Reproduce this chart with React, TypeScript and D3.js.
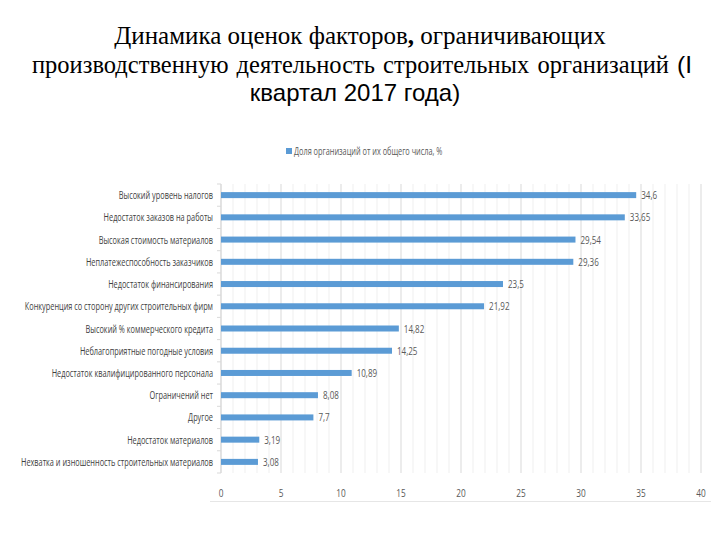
import React from "react";
import * as d3 from "d3";

const categories = [
  "Высокий уровень налогов",
  "Недостаток заказов на работы",
  "Высокая стоимость материалов",
  "Неплатежеспособность заказчиков",
  "Недостаток финансирования",
  "Конкуренция со сторону других строительных фирм",
  "Высокий % коммерческого кредита",
  "Неблагоприятные погодные условия",
  "Недостаток квалифицированного персонала",
  "Ограничений нет",
  "Другое",
  "Недостаток материалов",
  "Нехватка и изношенность строительных материалов",
];
const values = [34.6, 33.65, 29.54, 29.36, 23.5, 21.92, 14.82, 14.25, 10.89, 8.08, 7.7, 3.19, 3.08];
const valueLabels = ["34,6", "33,65", "29,54", "29,36", "23,5", "21,92", "14,82", "14,25", "10,89", "8,08", "7,7", "3,19", "3,08"];
const xTicks = [0, 5, 10, 15, 20, 25, 30, 35, 40];
const seriesName = "Доля организаций от их общего числа, %";
const titleLines = [
  "Динамика оценок факторов, ограничивающих",
  "производственную деятельность строительных организаций (I",
  "квартал 2017 года)",
];

const W = 720;
const H = 540;
const sans = "'Open Sans', 'Liberation Sans', sans-serif";
const serif = "'Liberation Serif', 'DejaVu Serif', serif";

function NText(props: { x: number; y: number; sx: number; anchor?: string; size: number; fill: string; children: React.ReactNode }) {
  return (
    <text
      transform={`translate(${props.x},${props.y}) scale(${props.sx},1)`}
      textAnchor={props.anchor || "start"}
      fontFamily={sans}
      fontSize={props.size}
      fill={props.fill}
    >
      {props.children}
    </text>
  );
}

export default function App() {
  const x = d3.scaleLinear().domain([0, 40]).range([221, 701]);
  const y = d3.scaleBand<string>().domain(categories).range([184, 473]).paddingInner(0.73).paddingOuter(0.365);
  const step = y.step();
  const minor = d3.range(0, 41, 1);
  const bounds = d3.range(0, categories.length + 1).map((i) => 184 + i * step);

  return (
    <svg width={W} height={H} style={{ position: "absolute", left: 0, top: 0, background: "#fff" }}>
      <rect width={W} height={H} fill="#fff" />
      {/* Title */}
      <text x={360} y={44} textAnchor="middle" fontFamily={serif} fontSize={25} fill="#000">
        Динамика оценок факторов<tspan fontWeight="bold">,</tspan> ограничивающих
      </text>
      <text x={32} y={73} fontFamily={serif} fontSize={24.5} fill="#000" wordSpacing={2}>
        производственную деятельность строительных организаций <tspan fontFamily="'Liberation Sans', Arial, sans-serif">(I</tspan>
      </text>
      <text x={355} y={101} textAnchor="middle" fontFamily="'Liberation Sans', Arial, sans-serif" fontSize={24} fill="#000">
        {titleLines[2]}
      </text>

      {/* Legend */}
      <rect x={286} y={148} width={6} height={6} fill="#5B9BD5" />
      <NText x={294} y={155} sx={0.7} size={10.5} fill="#595959">{seriesName}</NText>

      {/* Gridlines */}
      {minor.map((v) => (
        <line key={"g" + v} x1={x(v)} x2={x(v)} y1={184} y2={473} stroke={v % 5 === 0 ? "#d9d9d9" : "#efefef"} strokeWidth={1} />
      ))}
      {/* Y axis */}
      <line x1={x(0)} x2={x(0)} y1={184} y2={473} stroke="#d9d9d9" />
      {bounds.map((b, i) => (
        <line key={"t" + i} x1={x(0) - 4} x2={x(0)} y1={b} y2={b} stroke="#d9d9d9" />
      ))}

      {/* Bars */}
      {categories.map((c, i) => (
        <g key={c}>
          <rect x={x(0)} y={y(c)!} width={x(values[i]) - x(0)} height={y.bandwidth()} fill="#5B9BD5" />
          <NText x={x(values[i]) + 5} y={y(c)! + y.bandwidth() / 2 + 4} sx={0.7} size={11.5} fill="#595959">
            {valueLabels[i]}
          </NText>
          <NText x={213} y={y(c)! + y.bandwidth() / 2 + 4} sx={0.7} anchor="end" size={10.5} fill="#404040">
            {c}
          </NText>
        </g>
      ))}

      {/* X axis labels */}
      {xTicks.map((t) => (
        <NText key={"x" + t} x={x(t)} y={497} sx={0.75} anchor="middle" size={11} fill="#595959">
          {t}
        </NText>
      ))}
      <line x1={210} x2={711} y1={501.5} y2={501.5} stroke="#e6e6e6" />
    </svg>
  );
}
